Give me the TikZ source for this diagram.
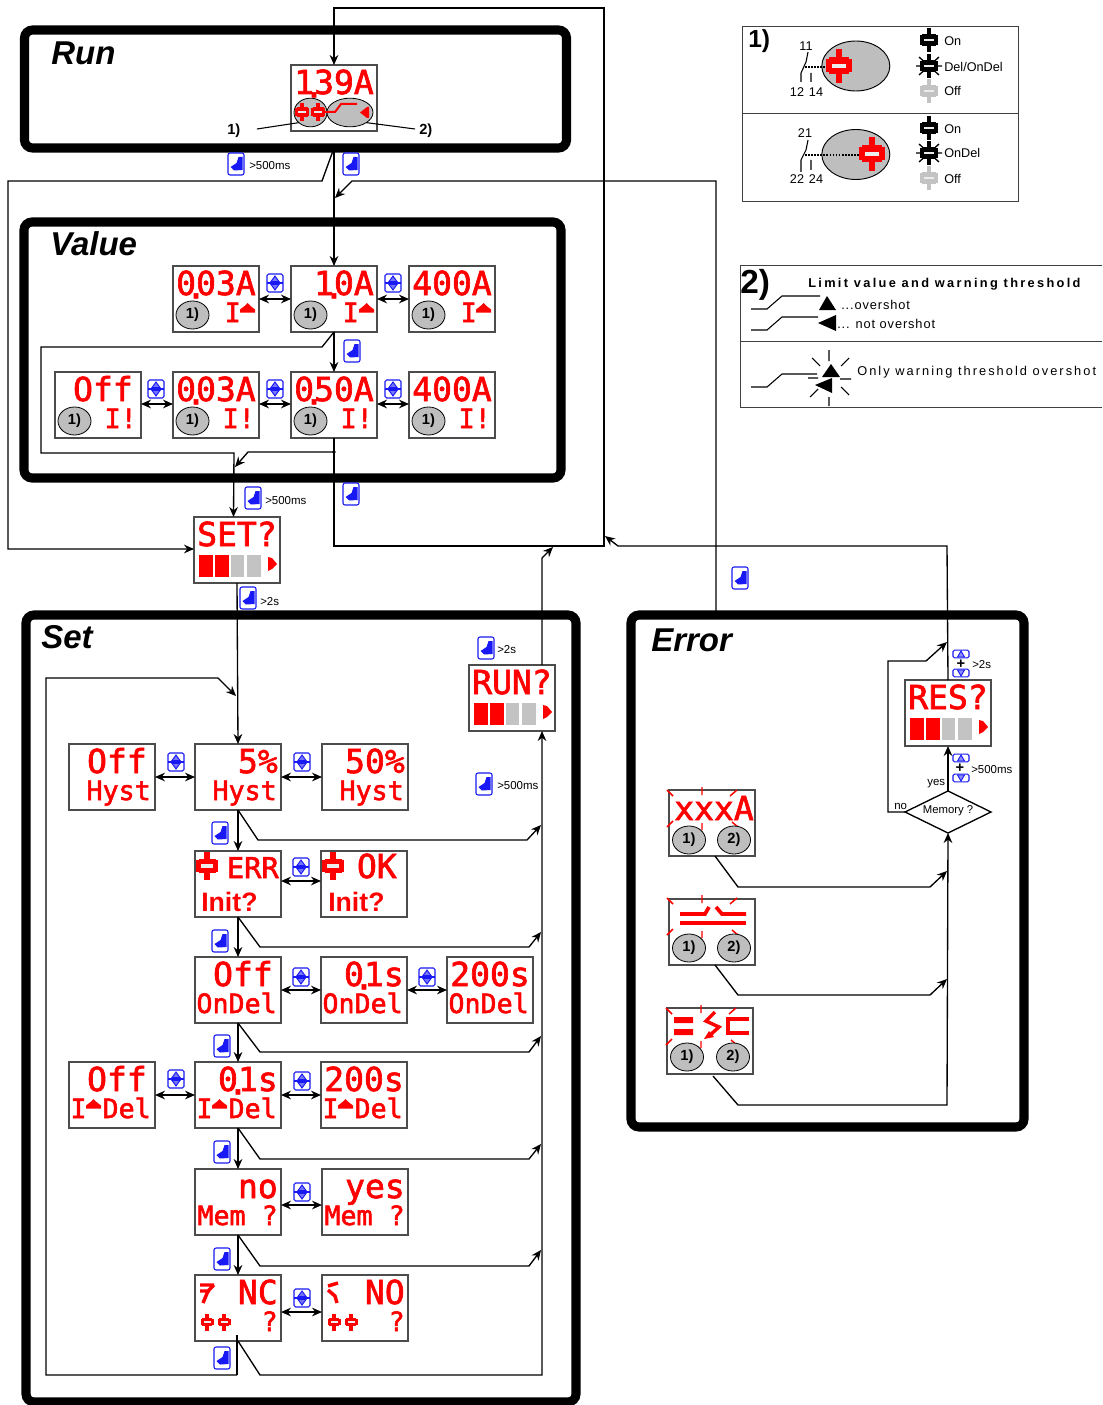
\documentclass[tikz,border=0pt]{standalone}
\usepackage{fontspec}
\usetikzlibrary{arrows.meta,shapes.geometric}
\setmainfont{Liberation Sans}
\newfontfamily\lcdfont[FakeBold=2]{DejaVu Sans Mono}
\definecolor{lcdred}{RGB}{255,0,0}
\definecolor{ballgray}{RGB}{190,190,190}
\definecolor{btnblue}{RGB}{25,25,245}
\definecolor{offgray}{RGB}{195,195,195}
\tikzset{
  frameline/.style={draw=black,line width=6.8pt,rounded corners=6pt},
  lcdbox/.style={draw=black!70,line width=.8pt,fill=white,minimum width=64.5pt,minimum height=49.5pt,inner sep=0pt,outer sep=0pt,anchor=north west},
  lcdtop/.style={text=lcdred,inner sep=0pt,font=\lcdfont\fontsize{24.75pt}{26pt}\selectfont},
  lcdmid/.style={text=lcdred,inner sep=0pt,font=\lcdfont\fontsize{21.5pt}{24pt}\selectfont},
  lcdlow/.style={text=lcdred,inner sep=0pt,font=\lcdfont\fontsize{20pt}{22pt}\selectfont},
  lcdsans/.style={text=lcdred,inner sep=0pt,font=\bfseries\fontsize{20pt}{22pt}\selectfont},
  ball/.style={ellipse,draw=black,line width=.6pt,fill=ballgray,minimum width=24.75pt,minimum height=21pt,inner sep=0pt,outer sep=0pt,font=\bfseries\fontsize{11pt}{12pt}\selectfont},
  conn/.style={draw=black,line width=1pt},
  arr/.style={conn,-{Stealth[length=7.5pt,width=6.5pt]}},
  dbl/.style={conn,{Stealth[length=7.5pt,width=6.5pt]}-{Stealth[length=7.5pt,width=6.5pt]}},
  lbl/.style={anchor=west,inner sep=0pt,yshift=-.75pt,font=\fontsize{8.6pt}{10pt}\selectfont},
  leg/.style={anchor=west,inner sep=0pt,yshift=-.75pt,font=\fontsize{9.5pt}{11pt}\selectfont},
  legc/.style={inner sep=0pt,yshift=-.5pt,font=\fontsize{9.5pt}{11pt}\selectfont},
  note/.style={anchor=west,inner sep=0pt,yshift=-1pt,font=\bfseries\fontsize{11pt}{12pt}\selectfont},
  ftitle/.style={anchor=west,inner sep=0pt,font=\bfseries\itshape\fontsize{24.75pt}{27pt}\selectfont},
  legline/.style={draw=black!75,line width=.7pt},
  thin/.style={draw=black,line width=.8pt},
  tick/.style={draw=lcdred,line width=1.1pt},
  handbtn/.pic={
    \draw[btnblue,line width=.8pt,rounded corners=1.5pt,fill=white] (-8,-11) rectangle (8,11);
    \fill[btnblue] (-5.5,3) -- (0.5,-1) -- (2.5,-7) -- (6.5,-7) -- (6.5,6) -- (-2,6.5) -- cycle;
  },
  updown/.pic={
    \draw[btnblue,line width=.85pt,rounded corners=1.2pt,fill=white] (-8,-9) rectangle (8,9);
    \draw[btnblue,line width=.85pt] (-8,0) -- (8,0);
    \draw[btnblue,line width=.7pt,fill=btnblue!60] (0,-7) -- (-4,-1.5) -- (4,-1.5) -- cycle;
    \draw[btnblue,line width=.7pt,fill=btnblue!60] (0,7) -- (-4,1.5) -- (4,1.5) -- cycle;
  },
  upbox/.pic={
    \draw[btnblue,line width=.8pt,rounded corners=1pt,fill=white] (-8,-3.8) rectangle (8,3.8);
    \draw[btnblue,line width=.7pt,fill=btnblue!50] (0,-3) -- (-3.5,3) -- (3.5,3) -- cycle;
  },
  downbox/.pic={
    \draw[btnblue,line width=.8pt,rounded corners=1pt,fill=white] (-8,-3.8) rectangle (8,3.8);
    \draw[btnblue,line width=.7pt,fill=btnblue!50] (0,3) -- (-3.5,-3) -- (3.5,-3) -- cycle;
  },
}
\newcommand\disp[3]{\node[lcdbox] (#1) at (#2,#3) {};}
\newcommand\lcdT[3][-3]{\node[lcdtop,anchor=base east] (#2T) at ([shift={(#1,29)}]#2.north east) {#3};}
\newcommand\lcdB[3][-4]{\node[lcdlow,anchor=base east] (#2B) at ([shift={(#1,56)}]#2.north east) {#3};}
\newcommand\pd{\kern-.3em\raisebox{-.1em}{.}\kern-.3em}
\newcommand\ballA[1]{\node[ball] (#1a) at ([shift={(19.5,49)}]#1.north west) {1)};}
\newcommand\relay[4]{\begin{scope}[shift={(#1,#2)},scale=#3]
  \fill[#4] (-3.2,-17) rectangle (3.2,17);
  \fill[#4] (-13,-6.5) rectangle (13,6.5);
  \fill[#4] (-10,-8.5) rectangle (10,8.5);
  \fill[white!85!gray] (-7,-2) rectangle (7,2);
\end{scope}}
\newcommand\burst[2]{\begin{scope}[shift={(#1,#2)}]
  \draw[black,line width=1pt] (-13,0) -- (13,0) (-10,-9) -- (10,9) (-10,9) -- (10,-9);
\end{scope}}
\newcommand\IarrowAt[2]{\fill[lcdred] ([shift={(#2,37)}]#1.north west) -- ++(3,3) -- ++(4.5,3.5) -- ++(0,3) -- ++(-15,0) -- ++(0,-3) -- ++(4.5,-3.5) -- cycle;}
\newcommand\bars[1]{\begin{scope}[shift={(#1.north west)}]
  \fill[lcdred] (5,38) rectangle (19,60);
  \fill[lcdred] (21,38) rectangle (35,60);
  \fill[offgray] (37,38) rectangle (50,60);
  \fill[offgray] (53,38) rectangle (67,60);
  \fill[lcdred] (74,40) -- (78,41) -- (83,47) -- (78,52) -- (74,54) -- cycle;
\end{scope}}
\newcommand\ticks[2]{%
  \begin{scope}[shift={(#1,#2)}]
  \draw[tick] (-2,0) -- (4,6) (33,-3) -- (33,5) (61,6) -- (68,0) (-2,37) -- (4,31) (33,33) -- (33,40) (63,32) -- (69,37);
  \end{scope}}
\begin{document}
\begin{tikzpicture}[x=.75pt,y=-.75pt]
\useasboundingbox (0,0) rectangle (1102,1405);
% frames
\draw[frameline] (24.5,30) rectangle (566.5,148);
\draw[frameline] (24,222) rectangle (561,478);
\draw[frameline] (26,615) rectangle (576,1402);
\draw[frameline] (631,615) rectangle (1024,1127);
\node[ftitle] (tRun) at (51,53) {Run};
\node[ftitle] (tValue) at (50,244) {Value};
\node[ftitle] (tSet) at (41,637) {Set};
\node[ftitle] (tError) at (651,640) {Error};

% displays
\disp{run}{291}{65}
\disp{va}{173}{266}\disp{vb}{291}{266}\disp{vc}{409}{266}
\disp{wo}{55}{372}\disp{wa}{173}{372}\disp{wb}{291}{372}\disp{wc}{409}{372}
\disp{setq}{194}{517}
\disp{runq}{469}{665}
\disp{ha}{69}{744}\disp{hb}{195}{744}\disp{hc}{322}{744}
\disp{ia}{195}{851}\disp{ib}{321}{851}
\disp{oa}{195}{957}\disp{ob}{321}{957}\disp{oc}{447}{957}
\disp{da}{69}{1062}\disp{db}{195}{1062}\disp{dc}{321}{1062}
\disp{ma}{195}{1169}\disp{mb}{322}{1169}
\disp{na}{195}{1275}\disp{nb}{322}{1275}
\disp{ea}{669}{790}\disp{eb}{669}{899}\disp{ec}{667}{1008}
\disp{resq}{905}{680}
\node[diamond,draw=black,line width=1pt,aspect=2,minimum width=64.5pt,minimum height=31.5pt,inner sep=0pt,outer sep=0pt,font=\fontsize{8.5pt}{10pt}\selectfont,fill=white] (mem) at (948,812) {};
\node[inner sep=0pt,font=\fontsize{8.5pt}{10pt}\selectfont] (memt) at (948,811) {Memory ?};

% run display
\node[ball,minimum width=24.75pt,minimum height=21.5pt] (runL) at (310.5,112.5) {};
\node[ball,minimum width=34.5pt,minimum height=21.5pt] (runR) at (350,112.5) {};
\lcdT[-3]{run}{1\pd 39A}
\relay{302}{112}{.55}{lcdred}
\relay{318}{112}{.55}{lcdred}
\draw[lcdred,line width=1.5pt] (325,112) -- (335,112) -- (341,104) -- (357,104);
\fill[lcdred] (360,112.5) -- (367,107) -- (369,107) -- (369,118) -- (367,118) -- cycle;
\node[note] (n1) at (227,129) {1)};
\node[note] (n2) at (419,129) {2)};
\draw[thin] (257,129) -- (runL.south west);
\draw[thin] (415,129) -- (runR.south east);

% value displays
\ballA{va}\lcdT{va}{0\pd 03A}\lcdB[-18]{va}{I}\IarrowAt{va}{74.5}
\ballA{vb}\lcdT{vb}{1\pd 0A}\lcdB[-18]{vb}{I}\IarrowAt{vb}{75.5}
\ballA{vc}\lcdT{vc}{400A}\lcdB[-18]{vc}{I}\IarrowAt{vc}{74.5}
\ballA{wo}\lcdT[-8]{wo}{Off}\lcdB{wo}{I!}
\ballA{wa}\lcdT{wa}{0\pd 03A}\lcdB{wa}{I!}
\ballA{wb}\lcdT{wb}{0\pd 50A}\lcdB{wb}{I!}
\ballA{wc}\lcdT{wc}{400A}\lcdB{wc}{I!}

% set / run / res
\lcdT{setq}{SET?}\bars{setq}
\lcdT{runq}{RUN?}\bars{runq}
\lcdT{resq}{RES?}\bars{resq}

% set displays
\lcdT[-8]{ha}{Off}\lcdB{ha}{Hyst}
\lcdT{hb}{5\%}\lcdB{hb}{Hyst}
\lcdT{hc}{50\%}\lcdB{hc}{Hyst}
\relay{207}{866}{.85}{lcdred}
\relay{333}{866}{.85}{lcdred}
\node[lcdmid,anchor=base east] (iaT) at (279,878) {ERR};
\node[lcdtop,anchor=base east] (ibT) at (397,878) {OK};
\node[lcdsans,anchor=base west] (iaB) at (201,911) {Init?};
\node[lcdsans,anchor=base west] (ibB) at (328,911) {Init?};
\lcdT[-8]{oa}{Off}\lcdB{oa}{OnDel}
\lcdT{ob}{0\pd 1s}\lcdB{ob}{OnDel}
\lcdT{oc}{200s}\lcdB{oc}{OnDel}
\lcdT[-8]{da}{Off}\lcdB{da}{I Del}\IarrowAt{da}{24.5}
\lcdT{db}{0\pd 1s}\lcdB{db}{I Del}\IarrowAt{db}{24.5}
\lcdT{dc}{200s}\lcdB{dc}{I Del}\IarrowAt{dc}{24.5}
\lcdT{ma}{no}\lcdB[-3]{ma}{Mem ?}
\lcdT{mb}{yes}\lcdB[-3]{mb}{Mem ?}
\lcdT{na}{NC}\lcdB[-3]{na}{?}
\lcdT{nb}{NO}\lcdB[-3]{nb}{?}
\draw[lcdred,line width=2.6pt] (200,1285) -- (214,1285) (214,1285) -- (208,1291) -- (203,1303) (200,1291) -- (210,1291);
\draw[lcdred,line width=2.6pt] (338,1283) -- (328,1286) (328,1290) -- (335,1296) -- (337,1303);
\relay{207}{1322}{.5}{lcdred}\relay{224}{1322}{.5}{lcdred}
\relay{334}{1322}{.5}{lcdred}\relay{351}{1322}{.5}{lcdred}

% error displays
\ticks{669}{790}
\ticks{669}{898}
\ticks{668}{1008}
\node[lcdtop,anchor=base east] (eaT) at (754,820) {xxxA};
\draw[lcdred,line width=2.8pt] (680,914) -- (705,914) -- (709,907);
\draw[lcdred,line width=2.8pt] (716,907) -- (722,914) -- (746,914);
\draw[lcdred,line width=3.4pt] (680,923) -- (746,923);
\fill[lcdred] (674,1017) rectangle (693,1023) (674,1029) rectangle (693,1035);
\draw[lcdred,line width=2.6pt] (715,1012) -- (706,1021) -- (719,1027) -- (709,1036);
\fill[lcdred] (704,1039) -- (709,1031) -- (714,1037) -- cycle;
\draw[lcdred,line width=3.6pt] (749,1019) -- (728,1019) -- (728,1033) -- (749,1033);
\node[ball] (ea1) at (689,840) {1)};\node[ball] (ea2) at (734,840) {2)};
\node[ball] (eb1) at (689,948) {1)};\node[ball] (eb2) at (734,948) {2)};
\node[ball] (ec1) at (687,1057) {1)};\node[ball] (ec2) at (733,1057) {2)};

% coordinates for frame exits
\coordinate (runOut) at (334,148);
\coordinate (errTop) at (716,615);
\coordinate (junc) at (334,452);

% main connectors
\draw[arr] (wb.south) -- (334,546) -- (604,546) -- (604,8) -- (334,8) -- (run.north);
\draw[arr] (runOut) -- (vb.north);
\draw[arr] (runOut) -- (322,181) -- (8,181) -- (8,549) -- ([shift={(0,32)}]setq.north west);
\draw[arr] (errTop) -- (716,181) -- (352,181) -- (335,198);
\draw[arr] (vb.south) -- (wb.north);
\draw[arr] (vb.south) -- (322,347) -- (41,347) -- (41,453) -- (234,453) -- ([shift={(-3.5,0)}]setq.north);
\draw[arr] (junc) -- (248,452) -- (235,467);
\fill (junc) circle (1.8);
\draw[arr] (setq.south) -- (hb.north);
\draw[arr] ([shift={(30,0)}]runq.north) -- (542,558) -- (553,547);
\draw[arr] (resq.north) -- (947,546) -- (618,546) -- (605,536);
\draw[arr] (mem.north) -- (resq.south);
\draw[arr] (mem.west) -- (888,812) -- (888,661) -- (926,661) -- (947,642);
\draw[arr] (ec.south) ++(3,2) -- (738,1105) -- (947,1105) -- (mem.south);
\draw[arr] ([shift={(3,0)}]ea.south) -- (738,887) -- (930,887) -- (947,871);
\draw[arr] ([shift={(3,0)}]eb.south) -- (738,995) -- (930,995) -- (947,979);

% set connectors
\draw[arr] (hb.south) -- (ia.north);
\draw[arr] (ia.south) -- (oa.north);
\draw[arr] (oa.south) -- (db.north);
\draw[arr] (db.south) -- (ma.north);
\draw[arr] (ma.south) -- (na.north);
\draw[arr] (hb.south) -- (258,840) -- (527,840) -- (541,825);
\draw[arr] (ia.south) -- (260,947) -- (529,947) -- (541,932);
\draw[arr] (oa.south) -- (260,1052) -- (529,1052) -- (541,1036);
\draw[arr] (db.south) -- (260,1159) -- (529,1159) -- (541,1144);
\draw[arr] (ma.south) -- (260,1266) -- (529,1266) -- (541,1250);
\draw[arr] (na.south) -- (260,1375) -- (542,1375) -- ([shift={(30,0)}]runq.south);
\draw[conn] ([shift={(-1,-6)}]na.south) -- (237,1375);
\draw[arr] (237,1375) -- (46,1375) -- (46,678) -- (218,678) -- (236,696);

% double arrows
\draw[dbl] (va.east) -- (vb.west);
\draw[dbl] (vb.east) -- (vc.west);
\draw[dbl] ([shift={(0,-1)}]wo.east) -- ([shift={(0,-1)}]wa.west);
\draw[dbl] ([shift={(0,-1)}]wa.east) -- ([shift={(0,-1)}]wb.west);
\draw[dbl] ([shift={(0,-1)}]wb.east) -- ([shift={(0,-1)}]wc.west);
\draw[dbl] (ha.east) -- (hb.west);
\draw[dbl] (hb.east) -- (hc.west);
\draw[dbl] ([shift={(0,-3)}]ia.east) -- ([shift={(0,-3)}]ib.west);
\draw[dbl] (oa.east) -- (ob.west);
\draw[dbl] (ob.east) -- (oc.west);
\draw[dbl] (da.east) -- (db.west);
\draw[dbl] (db.east) -- (dc.west);
\draw[dbl] ([shift={(0,3)}]ma.east) -- ([shift={(0,3)}]mb.west);
\draw[dbl] ([shift={(0,4)}]na.east) -- ([shift={(0,4)}]nb.west);

% hand buttons
\foreach \p in {(236,164),(351,164),(352,351),(253,498),(351,494),(248,598),(486,648),(484,784),(220,833),(220,941),(222,1046),(222,1152),(222,1259),(222,1358),(740,578)}
  \pic at \p {handbtn};
% up-down buttons
\foreach \p in {(275,283),(393,283),(156,389),(275,389),(393,389),(176,762),(302,762),(301,867),(301,977),(427,977),(176,1079),(302,1081),(302,1192),(302,1298)}
  \pic at \p {updown};
\pic at (961,654) {upbox};
\pic at (961,673) {downbox};
\pic at (961,758) {upbox};
\pic at (961,778) {downbox};
\node[inner sep=0pt,font=\bfseries\fontsize{11pt}{11pt}\selectfont] (plusA) at (961,664) {+};
\node[inner sep=0pt,font=\bfseries\fontsize{11pt}{11pt}\selectfont] (plusB) at (960,768) {+};

% small labels
\node[lbl] (l1) at (249,165) {>500ms};
\node[lbl] (l2) at (265,500) {>500ms};
\node[lbl] (l3) at (260,601) {>2s};
\node[lbl] (l4) at (497,649) {>2s};
\node[lbl] (l5) at (497,785) {>500ms};
\node[lbl] (l6) at (972,664) {>2s};
\node[lbl] (l7) at (971,769) {>500ms};
\node[lbl] (lyes) at (927,783) {yes};
\node[lbl] (lno) at (894,805) {no};

% legend 1
\draw[legline] (742,26) rectangle (1018,201);
\draw[legline] (742,113) -- (1018,113);
\node[anchor=west,inner sep=0pt,font=\bfseries\fontsize{18.5pt}{22pt}\selectfont] (leg1) at (748,41) {1)};
\node[ellipse,draw=black,line width=.7pt,fill=ballgray,minimum width=51pt,minimum height=37.5pt,inner sep=0pt] (e1) at (855.8,66) {};
\node[ellipse,draw=black,line width=.7pt,fill=ballgray,minimum width=51pt,minimum height=37.5pt,inner sep=0pt] (e2) at (855.8,154.5) {};
\relay{839}{66}{1}{lcdred}
\relay{872}{154}{1}{lcdred}
\node[legc] (c11) at (806,45) {11};
\node[legc] (c12) at (797,91) {12};
\node[legc] (c14) at (816,91) {14};
\node[legc] (c21) at (805,132) {21};
\node[legc] (c22) at (797,178) {22};
\node[legc] (c24) at (816,178) {24};
\draw[thin] (808,52) -- (806,62) -- (801,73) (801,73) -- (801,82) (811,73) -- (811,82);
\draw[thin] (808,140) -- (806,150) -- (801,160) (801,160) -- (801,172) (811,160) -- (811,170);
\draw[black,line width=1.3pt,densely dotted] (805,67) -- (826,67);
\draw[black,line width=1.3pt,densely dotted] (805,155) -- (860,155);
\relay{929}{40}{.7}{black}
\burst{929}{66}\relay{929}{66}{.7}{black}
\relay{929}{91}{.7}{offgray}
\relay{929}{128}{.7}{black}
\burst{929}{153}\relay{929}{153}{.7}{black}
\relay{929}{178}{.7}{offgray}
\node[leg] (s1) at (944,40) {On};
\node[leg] (s2) at (944,66) {Del/OnDel};
\node[leg] (s3) at (944,90) {Off};
\node[leg] (s4) at (944,128) {On};
\node[leg] (s5) at (944,152) {OnDel};
\node[leg] (s6) at (944,178) {Off};

% legend 2
\draw[legline] (1102,265) -- (740,265) -- (740,407) -- (1102,407);
\draw[legline] (740,341) -- (1102,341);
\node[anchor=west,inner sep=0pt,font=\bfseries\fontsize{25pt}{27pt}\selectfont] (leg2) at (740,285) {2)};
\node[anchor=west,inner sep=0pt,font=\bfseries\fontsize{9.6pt}{11pt}\selectfont\addfontfeature{LetterSpace=18}] (lt) at (808,284) {Limit value and warning threshold};
\node[anchor=west,inner sep=0pt,font=\fontsize{9.6pt}{11pt}\selectfont\addfontfeature{LetterSpace=7}] (lo) at (841,305) {...overshot};
\node[anchor=west,inner sep=0pt,font=\fontsize{9.6pt}{11pt}\selectfont\addfontfeature{LetterSpace=7}] (ln) at (837,324) {... not overshot};
\node[anchor=west,inner sep=0pt,font=\fontsize{9.6pt}{11pt}\selectfont\addfontfeature{LetterSpace=16}] (lw) at (857,372) {Only warning threshold overshot};
\draw[thin] (751,309) -- (767,309) -- (782,296) -- (820,296);
\draw[thin] (751,330) -- (767,330) -- (782,317) -- (818,317);
\draw[thin] (751,387) -- (767,387) -- (782,374) -- (817,374);
\fill (819,310) -- (836,310) -- (827,296) -- cycle;
\fill (818,323) -- (836,315) -- (836,331) -- cycle;
\fill (822,377) -- (840,377) -- (831,364) -- cycle;
\fill (815,385) -- (832,378) -- (832,393) -- cycle;
\draw[thin] (829,350) -- (829,361) (829,397) -- (829,406) (808,378) -- (818,378) (840,379) -- (851,379) (812,358) -- (820,366) (849,358) -- (841,366) (810,397) -- (818,389) (849,395) -- (841,387);
\end{tikzpicture}
\end{document}
